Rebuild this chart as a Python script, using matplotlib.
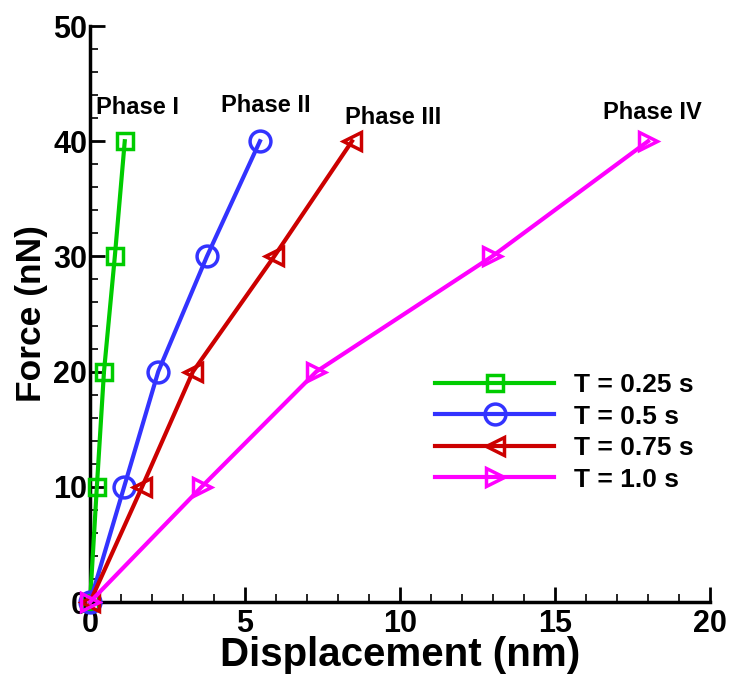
import matplotlib
matplotlib.use("Agg")
import matplotlib.pyplot as plt
from matplotlib.ticker import MultipleLocator

plt.rcParams['font.family'] = ['Liberation Sans', 'DejaVu Sans']
plt.rcParams['font.weight'] = 'bold'

force = [0, 10, 20, 30, 40]
disp_025 = [0, 0.22, 0.45, 0.8, 1.12]
disp_05 = [0, 1.1, 2.2, 3.77, 5.48]
disp_075 = [0, 1.68, 3.32, 5.94, 8.45]
disp_10 = [0, 3.6, 7.3, 12.97, 18.0]

labels = ["T = 0.25 s", "T = 0.5 s", "T = 0.75 s", "T = 1.0 s"]
phase_text = ["Phase I", "Phase II", "Phase III", "Phase IV"]
phase_x = [1.52, 5.68, 9.77, 18.13]
phase_y = [42.9, 43.1, 42.1, 42.5]

fig = plt.figure(figsize=(7.29, 6.74), dpi=100)
ax = fig.add_axes([0.1235, 0.1068, 0.8505, 0.8546])

styles = [
    (disp_025, '#00cc00', 's', 11),
    (disp_05, '#3333ff', 'o', 15),
    (disp_075, '#cc0000', '<', 13),
    (disp_10, '#ff00ff', '>', 13),
]
for (d, c, m, ms), lab in zip(styles, labels):
    ax.plot(d, force, color=c, lw=3, marker=m, ms=ms, mfc='none', mec=c,
            mew=2.5, label=lab, clip_on=False, zorder=3)

for t, x, y in zip(phase_text, phase_x, phase_y):
    ax.text(x, y, t, fontsize=17, fontweight='bold', ha='center', va='center')

ax.set_xlim(0, 20)
ax.set_ylim(0, 50)
ax.xaxis.set_major_locator(MultipleLocator(5))
ax.xaxis.set_minor_locator(MultipleLocator(1))
ax.yaxis.set_major_locator(MultipleLocator(10))
ax.yaxis.set_minor_locator(MultipleLocator(2))
ax.tick_params(which='major', direction='in', length=11, width=2, labelsize=22)
ax.tick_params(axis='x', which='major', pad=5)
ax.tick_params(axis='y', which='major', pad=2)
ax.tick_params(which='minor', direction='in', length=6, width=1.2)
for lab in ax.get_xticklabels() + ax.get_yticklabels():
    lab.set_fontweight('bold')
for s in ['top', 'right']:
    ax.spines[s].set_visible(False)
for s in ['left', 'bottom']:
    ax.spines[s].set_linewidth(2.5)

ax.set_xlabel("Displacement (nm)", fontsize=29, fontweight='bold', labelpad=-2)
ax.set_ylabel("Force (nN)", fontsize=25.5, fontweight='bold', labelpad=4)

leg = ax.legend(loc='upper left', bbox_to_anchor=(0.557, 0.397), frameon=False,
                handlelength=4.5, labelspacing=0.28, handletextpad=0.75,
                borderpad=0, borderaxespad=0,
                prop={'weight': 'bold', 'size': 19})

fig.savefig("out.png", dpi=100)
